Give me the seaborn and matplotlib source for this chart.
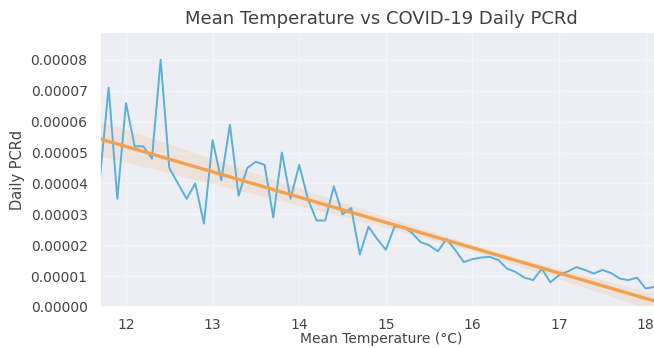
import numpy as np
import pandas as pd
import matplotlib
matplotlib.use("Agg")
import matplotlib.pyplot as plt
from matplotlib.ticker import FormatStrFormatter
import seaborn as sns

# Data
temperature = [11.7, 11.8, 11.9, 12.0, 12.1, 12.2, 12.3, 12.4, 12.5, 12.6,
               12.7, 12.8, 12.9, 13.0, 13.1, 13.2, 13.3, 13.4, 13.5, 13.6,
               13.7, 13.8, 13.9, 14.0, 14.1, 14.2, 14.3, 14.4, 14.5, 14.6,
               14.7, 14.8, 14.9, 15.0, 15.1, 15.2, 15.3, 15.4, 15.5, 15.6,
               15.7, 15.8, 15.9, 16.0, 16.1, 16.2, 16.3, 16.4, 16.5, 16.6,
               16.7, 16.8, 16.9, 17.0, 17.1, 17.2, 17.3, 17.4, 17.5, 17.6,
               17.7, 17.8, 17.9, 18.0, 18.1]
pcrd_e5 = [4.2, 7.1, 3.5, 6.6, 5.2, 5.2, 4.8, 8.0, 4.5, 4.0,
           3.5, 4.0, 2.7, 5.4, 4.1, 5.9, 3.6, 4.5, 4.7, 4.6,
           2.9, 5.0, 3.5, 4.6, 3.5, 2.8, 2.8, 3.9, 3.0, 3.2,
           1.7, 2.6, 2.2, 1.85, 2.6, 2.6, 2.4, 2.1, 2.0, 1.8,
           2.2, 1.85, 1.45, 1.55, 1.6, 1.62, 1.52, 1.24, 1.13, 0.95,
           0.87, 1.24, 0.8, 1.03, 1.15, 1.29, 1.2, 1.08, 1.2, 1.1,
           0.92, 0.87, 0.95, 0.6, 0.65]
daily_pcrd = [v * 1e-5 for v in pcrd_e5]

title_text = "Mean Temperature vs COVID-19 Daily PCRd"
x_label = "Mean Temperature (\u00b0C)"
y_label = "Daily PCRd"

df = pd.DataFrame({"temp": temperature, "pcrd": daily_pcrd})

sns.set_theme(style="darkgrid", rc={"axes.facecolor": "#eceef4",
                                    "grid.color": "#f4f5f9",
                                    "grid.linewidth": 1.0})
plt.rcParams["font.family"] = ["DejaVu Sans"]

fig = plt.figure(figsize=(6.54, 3.48), dpi=100)
ax = fig.add_axes([100 / 654, 41 / 348, 563 / 654, 275 / 348])

sns.lineplot(data=df, x="temp", y="pcrd", ax=ax, color="#5ab0d8", linewidth=1.4)
sns.regplot(data=df, x="temp", y="pcrd", ax=ax, scatter=False,
            color="#f2a24e", line_kws={"linewidth": 2.4})

ax.set_xlim(11.7, 18.2)
ax.set_ylim(0, 8.9e-5)
ax.set_xticks([12, 13, 14, 15, 16, 17, 18])
ax.set_yticks([0, 1e-5, 2e-5, 3e-5, 4e-5, 5e-5, 6e-5, 7e-5, 8e-5])
ax.yaxis.set_major_formatter(FormatStrFormatter("%.5f"))
ax.tick_params(axis="both", labelsize=10, colors="#444444", pad=3)
ax.tick_params(axis="x", pad=2)
ax.set_xlabel(x_label, fontsize=10, color="#444444", labelpad=0)
ax.set_ylabel(y_label, fontsize=10.5, color="#444444")
ax.set_title(title_text, fontsize=13, color="#404040")

fig.savefig("out.png", dpi=100)
